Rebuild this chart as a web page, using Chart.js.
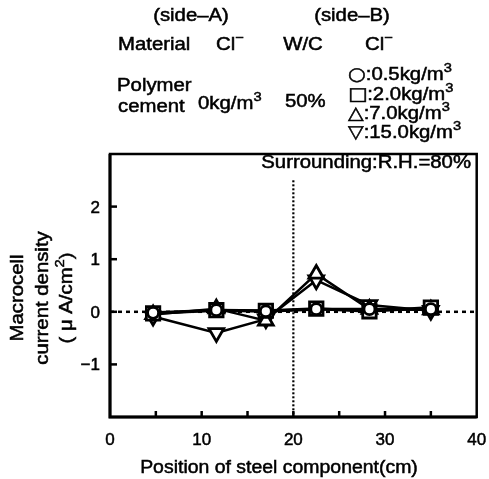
<!DOCTYPE html>
<html>
<head>
<meta charset="utf-8">
<script src="https://cdn.jsdelivr.net/npm/chart.js@4"></script>
<style>
  html, body { margin: 0; padding: 0; background: #fff; }
  #wrap { width: 489px; height: 479px; position: relative; }
</style>
</head>
<body>
<div id="wrap"><canvas id="macrocellChart"></canvas></div>
<script>
// steel component positions (cm) and macrocell current density (uA/cm2)
const positions = [4.7, 11.6, 17.0, 22.5, 28.3, 35.0];
const cl05 = [-0.02, 0.03, 0.01, 0.05, 0.05, 0.05];
const cl20 = [-0.03, 0.03, 0.02, 0.06, 0.01, 0.08];
const cl70 = [-0.05, 0.06, -0.17, 0.72, 0.05, 0.04];
const cl150 = [-0.09, -0.4, -0.14, 0.6, 0.13, 0.02];

const xTickLabels = [0, 10, 20, 30, 40];
const xMinorTicks = [5, 10, 15, 20, 25, 30, 35];
const yTickLabels = [-1, 0, 1, 2];

const FONT = '"Liberation Sans", Arial, Helvetica, sans-serif';
const SYMBOL_FONT = '"DejaVu Sans", sans-serif';
const STRETCH = 1.13;

function toXY(ys) {
  return positions.map((x, i) => ({ x: x, y: ys[i] }));
}

function fontFor(p, size) {
  const s = p.sup ? Math.round(size * 0.72) : size;
  return s + "px " + (p.sym ? SYMBOL_FONT : FONT);
}

// draws a run of text pieces, some as superscripts, stretched horizontally
function drawRich(ctx, parts, x, y, align, size, sx) {
  size = size || 18;
  sx = sx || STRETCH;
  let w = 0;
  parts.forEach((p) => {
    ctx.font = fontFor(p, size);
    p.w = ctx.measureText(p.t).width;
    w += p.w;
  });
  let start = x;
  if (align === "center") start = x - (w * sx) / 2;
  if (align === "right") start = x - w * sx;
  ctx.save();
  ctx.translate(start, y);
  ctx.scale(sx, 1);
  ctx.fillStyle = "#000";
  ctx.strokeStyle = "#000";
  ctx.lineWidth = 0.5;
  ctx.textAlign = "left";
  ctx.textBaseline = "alphabetic";
  let cx = 0;
  parts.forEach((p) => {
    ctx.font = fontFor(p, size);
    const dy = p.sup ? -size * 0.42 : 0;
    ctx.fillText(p.t, cx, dy);
    ctx.strokeText(p.t, cx, dy);
    cx += p.w;
  });
  ctx.restore();
}

const plain = (t) => ({ t: t });
const sup = (t) => ({ t: t, sup: true });
const sym = (t) => ({ t: t, sym: true });

const framePlugin = {
  id: "frame",
  beforeDatasetsDraw(chart) {
    const { ctx, chartArea: a, scales } = chart;
    const xs = scales.x, ys = scales.y;
    ctx.save();
    ctx.strokeStyle = "#000";
    // zero line
    ctx.lineWidth = 2.5;
    ctx.setLineDash([4, 4]);
    const y0 = ys.getPixelForValue(0);
    ctx.beginPath();
    ctx.moveTo(a.left, y0);
    ctx.lineTo(a.right, y0);
    ctx.stroke();
    // side-A / side-B boundary
    ctx.lineWidth = 2.2;
    ctx.setLineDash([2, 2]);
    const x20 = xs.getPixelForValue(20);
    ctx.beginPath();
    ctx.moveTo(x20, ys.getPixelForValue(2.5));
    ctx.lineTo(x20, a.bottom);
    ctx.stroke();
    ctx.restore();
  },
  afterDraw(chart) {
    const { ctx, chartArea: a, scales } = chart;
    const xs = scales.x, ys = scales.y;
    ctx.save();
    ctx.strokeStyle = "#000";
    ctx.setLineDash([]);
    // box
    ctx.lineWidth = 2.5;
    ctx.strokeRect(a.left, a.top, a.right - a.left, a.bottom - a.top);
    ctx.lineWidth = 3;
    ctx.beginPath();
    ctx.moveTo(a.left, a.top);
    ctx.lineTo(a.left, a.bottom);
    ctx.lineTo(a.right, a.bottom);
    ctx.stroke();
    // inward ticks
    ctx.lineWidth = 2.5;
    yTickLabels.forEach((v) => {
      const py = ys.getPixelForValue(v);
      ctx.beginPath();
      ctx.moveTo(a.left, py);
      ctx.lineTo(a.left + 7, py);
      ctx.stroke();
    });
    xMinorTicks.forEach((v) => {
      const px = xs.getPixelForValue(v);
      ctx.beginPath();
      ctx.moveTo(px, a.bottom);
      ctx.lineTo(px, a.bottom - 6);
      ctx.stroke();
    });
    ctx.restore();

    // tick labels
    yTickLabels.forEach((v) => {
      const t = v < 0 ? "\u2212" + Math.abs(v) : String(v);
      drawRich(ctx, [plain(t)], a.left - 10, ys.getPixelForValue(v) + 6, "right", 17, 1.0);
    });
    xTickLabels.forEach((v) => {
      drawRich(ctx, [plain(String(v))], xs.getPixelForValue(v), 445, "center", 17, 1.0);
    });

    // axis titles
    drawRich(ctx, [plain("Position of steel component(cm)")], 279, 473, "center", 18, 1.08);
    ctx.save();
    ctx.translate(0, 298);
    ctx.rotate(-Math.PI / 2);
    drawRich(ctx, [plain("Macrocell")], 0, 23, "center");
    drawRich(ctx, [plain("current density")], 0, 48, "center");
    drawRich(ctx, [plain("( \u03bc A/cm"), sup("2"), plain(")")], 0, 72, "center");
    ctx.restore();

    // condition table
    drawRich(ctx, [plain("(side\u2013A)")], 191, 21, "center");
    drawRich(ctx, [plain("(side\u2013B)")], 352, 21, "center");
    drawRich(ctx, [plain("Material")], 118, 50, "left");
    drawRich(ctx, [plain("Cl"), sup("\u2212")], 230, 50, "center");
    drawRich(ctx, [plain("W/C")], 303, 50, "center");
    drawRich(ctx, [plain("Cl"), sup("\u2212")], 379, 50, "center");
    drawRich(ctx, [plain("Polymer")], 117, 91, "left");
    drawRich(ctx, [plain("cement")], 118, 112, "left");
    drawRich(ctx, [plain("0kg/m"), sup("3")], 198, 109, "left");
    drawRich(ctx, [plain("50%")], 285, 107, "left");
    drawRich(ctx, [sym("\u25cb"), plain(":0.5kg/m"), sup("3")], 348, 80, "left");
    drawRich(ctx, [sym("\u25a1"), plain(":2.0kg/m"), sup("3")], 348, 100, "left");
    drawRich(ctx, [sym("\u25b3"), plain(":7.0kg/m"), sup("3")], 348, 119, "left");
    drawRich(ctx, [sym("\u25bd"), plain(":15.0kg/m"), sup("3")], 348, 138, "left");

    drawRich(ctx, [plain("Surrounding:R.H.=80%")], 471, 168, "right");
  },
};

function series(label, ys, style, radius, rotation, order, width) {
  return {
    label: label,
    data: toXY(ys),
    showLine: true,
    borderColor: "#000",
    borderWidth: width,
    pointStyle: style,
    pointRadius: radius,
    pointRotation: rotation,
    pointBackgroundColor: "#fff",
    pointBorderColor: "#000",
    pointBorderWidth: 2.8,
    tension: 0,
    order: order,
  };
}

new Chart(document.getElementById("macrocellChart"), {
  type: "scatter",
  data: {
    datasets: [
      series("0.5kg/m3", cl05, "circle", 5.5, 0, 1, 3),
      series("2.0kg/m3", cl20, "rect", 9.5, 0, 2, 3),
      series("7.0kg/m3", cl70, "triangle", 8.5, 0, 3, 2.5),
      series("15.0kg/m3", cl150, "triangle", 8.5, 180, 4, 2.5),
    ],
  },
  options: {
    responsive: true,
    maintainAspectRatio: false,
    animation: false,
    layout: { padding: { left: 0, top: 154, right: 11, bottom: 0 } },
    plugins: {
      legend: { display: false },
      tooltip: { enabled: false },
    },
    scales: {
      x: {
        type: "linear",
        min: 0,
        max: 40,
        grid: { display: false },
        border: { display: false },
        ticks: { display: false },
        afterFit: (scale) => { scale.height = 62; },
      },
      y: {
        type: "linear",
        min: -2,
        max: 3,
        grid: { display: false },
        border: { display: false },
        ticks: { display: false },
        afterFit: (scale) => { scale.width = 110; },
      },
    },
  },
  plugins: [framePlugin],
});
</script>
</body>
</html>
